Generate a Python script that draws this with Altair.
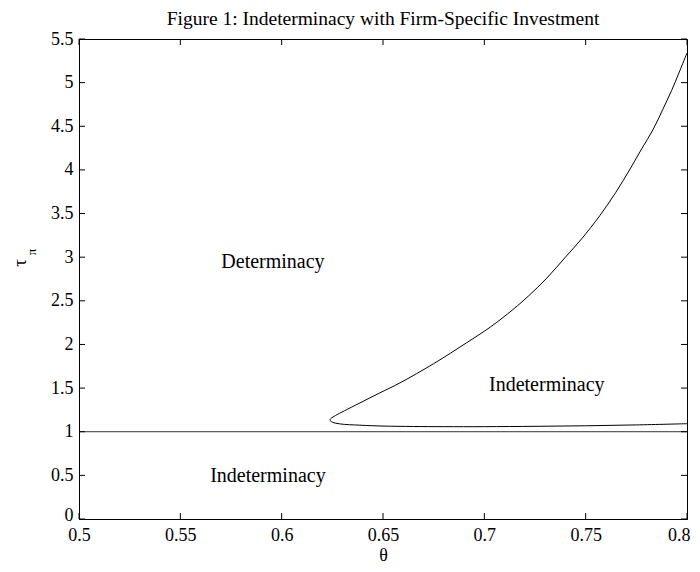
import altair as alt
import pandas as pd

# Boundary curve (upper branch from top, around the nose, lower branch)
theta_curve = [0.8000, 0.7960, 0.7924, 0.7880, 0.7832, 0.7776, 0.7719, 0.7648,
               0.7571, 0.7480, 0.7400, 0.7308, 0.7220, 0.7141, 0.7030, 0.6913,
               0.6750, 0.6584, 0.6480, 0.6386, 0.6310, 0.6265, 0.6245, 0.6238,
               0.6250, 0.6290, 0.6386, 0.6500, 0.6650, 0.6800, 0.7000, 0.7250,
               0.7500, 0.7750, 0.8000]
tau_curve = [5.34, 5.11, 4.91, 4.69, 4.46, 4.24, 4.01, 3.74,
             3.48, 3.21, 3.00, 2.76, 2.56, 2.40, 2.20, 2.02,
             1.78, 1.56, 1.44, 1.33, 1.24, 1.185, 1.155, 1.134,
             1.110, 1.089, 1.075, 1.065, 1.060, 1.058, 1.058, 1.062,
             1.068, 1.078, 1.092]

# Horizontal boundary tau = 1
line_theta = [0.5, 0.8]
line_tau = [1.0, 1.0]

# Region labels
label_text = ["Determinacy", "Indeterminacy", "Indeterminacy"]
label_theta = [0.5957, 0.7308, 0.5932]
label_tau = [2.94, 1.535, 0.49]

x_ticks = [0.5, 0.55, 0.6, 0.65, 0.7, 0.75, 0.8]
y_ticks = [0, 0.5, 1, 1.5, 2, 2.5, 3, 3.5, 4, 4.5, 5, 5.5]

W, H = 608, 480
FONT = "Liberation Serif"

curve_df = pd.DataFrame({"theta": theta_curve, "tau": tau_curve,
                         "order": list(range(len(theta_curve)))})
line_df = pd.DataFrame({"theta": line_theta, "tau": line_tau})
label_df = pd.DataFrame({"text": label_text, "theta": label_theta, "tau": label_tau})
xt_df = pd.DataFrame({"v": x_ticks})
yt_df = pd.DataFrame({"v": y_ticks})

xscale = alt.Scale(domain=[0.5, 0.8], nice=False, zero=False)
yscale = alt.Scale(domain=[0, 5.5], nice=False)

xaxis = alt.Axis(values=x_ticks, format="~g", tickSize=0, labelPadding=7,
                 labelAlign={"condition": {"test": "datum.value >= 0.8", "value": "right"},
                             "value": "center"},
                 labelOffset={"condition": {"test": "datum.value >= 0.8", "value": 3},
                              "value": 0},
                 title="θ", titleFontWeight="normal", titleFont=FONT,
                 titleFontSize=18, titlePadding=2, labelFont=FONT, labelFontSize=18,
                 labelColor="black", titleColor="black", domainColor="black",
                 grid=False, labelFlush=False)
yaxis = alt.Axis(values=y_ticks, format="~g", tickSize=0, labelPadding=6,
                 labelOffset={"condition": {"test": "datum.value == 0", "value": -4},
                              "value": 0},
                 title=None, labelFont=FONT, labelFontSize=18, labelColor="black",
                 domainColor="black", grid=False, labelFlush=False)

curve = alt.Chart(curve_df).mark_line(color="black", strokeWidth=1,
                                      interpolate="catmull-rom").encode(
    x=alt.X("theta:Q", scale=xscale, axis=xaxis),
    y=alt.Y("tau:Q", scale=yscale, axis=yaxis),
    order="order:Q",
)

hline = alt.Chart(line_df).mark_line(color="#333333", strokeWidth=1).encode(
    x=alt.X("theta:Q", scale=xscale),
    y=alt.Y("tau:Q", scale=yscale),
)

labels = alt.Chart(label_df).mark_text(font=FONT, fontSize=20, color="black").encode(
    x=alt.X("theta:Q", scale=xscale),
    y=alt.Y("tau:Q", scale=yscale),
    text="text:N",
)

xt_bottom = alt.Chart(xt_df).mark_rule(color="black", strokeWidth=1).encode(
    x=alt.X("v:Q", scale=xscale), y=alt.value(H), y2=alt.value(H - 6))
xt_top = alt.Chart(xt_df).mark_rule(color="black", strokeWidth=1).encode(
    x=alt.X("v:Q", scale=xscale), y=alt.value(0), y2=alt.value(6))
yt_left = alt.Chart(yt_df).mark_rule(color="black", strokeWidth=1).encode(
    y=alt.Y("v:Q", scale=yscale), x=alt.value(0), x2=alt.value(6))
yt_right = alt.Chart(yt_df).mark_rule(color="black", strokeWidth=1).encode(
    y=alt.Y("v:Q", scale=yscale), x=alt.value(W), x2=alt.value(W - 6))

ytitle_df = pd.DataFrame({"t": ["τ"]})
ysub_df = pd.DataFrame({"t": ["π"]})
ytitle = alt.Chart(ytitle_df).mark_text(font=FONT, fontSize=19, angle=270,
                                         color="black").encode(
    text="t:N", x=alt.value(-59), y=alt.value(224))
ysub = alt.Chart(ysub_df).mark_text(font=FONT, fontSize=13, angle=270,
                                     color="black").encode(
    text="t:N", x=alt.value(-47), y=alt.value(213))

chart = alt.layer(hline, curve, labels, xt_bottom, xt_top, yt_left, yt_right,
                  ytitle, ysub).properties(
    width=W, height=H,
    title=alt.TitleParams("Figure 1: Indeterminacy with Firm-Specific Investment",
                          font=FONT, fontSize=19.5, fontWeight="normal",
                          color="black", offset=1),
    autosize=alt.AutoSizeParams(type="none"),
    padding={"left": 71, "top": 31, "right": 5, "bottom": 45},
).configure_view(stroke="black", strokeWidth=1)

chart.save("out.html", embed_options={"renderer": "svg", "actions": False})
